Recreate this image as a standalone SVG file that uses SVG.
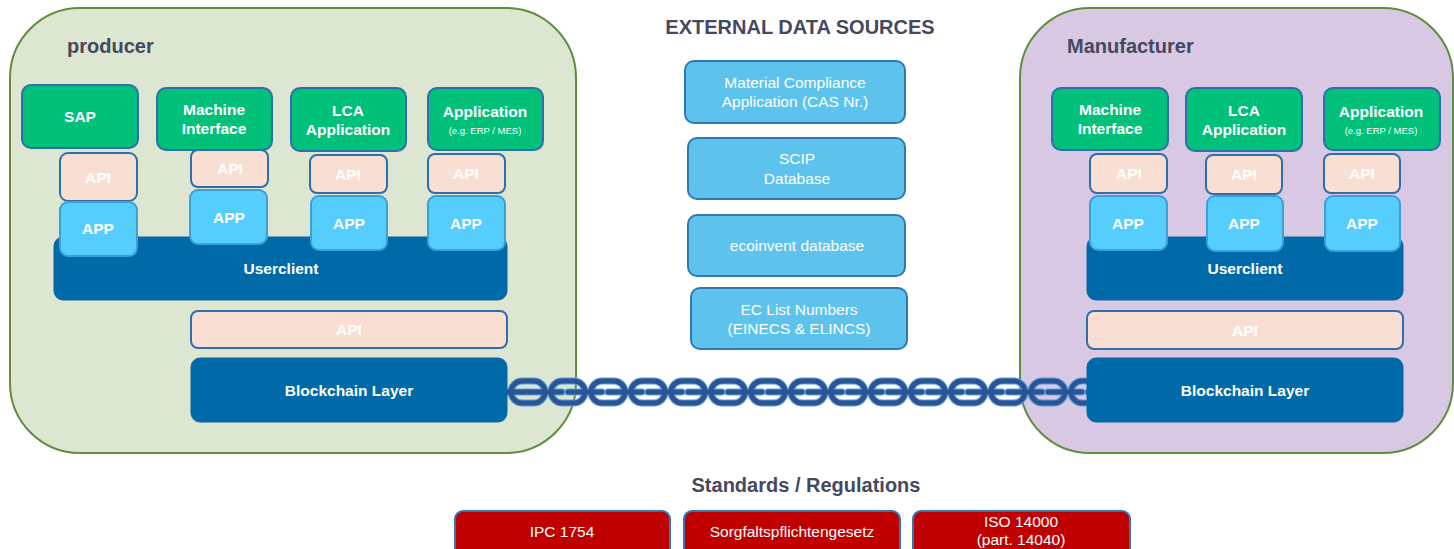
<svg xmlns="http://www.w3.org/2000/svg" width="1454" height="549" viewBox="0 0 1454 549">
<defs>
<style>
text{font-family:"Liberation Sans",Arial,sans-serif;text-anchor:middle}
.container{stroke:#5e8e3e;stroke-width:2}
.title{font-size:20px;font-weight:bold;fill:#44495f}
.ctitle{font-size:20px;font-weight:bold;fill:#44495f;text-anchor:start}
.green{fill:#00c07a;stroke:#2e6fab;stroke-width:2}
.api{fill:#f9dfd3;stroke:#2e6fab;stroke-width:2}
.app{fill:#56cefd;stroke:#3b9fd8;stroke-width:2}
.dark{fill:#006aa9;stroke:#0a66a2;stroke-width:1}
.ext{fill:#5ec3ec;stroke:#2f78b4;stroke-width:2}
.red{fill:#c00000;stroke:#2f78b4;stroke-width:2}
.wb{fill:#fff;font-weight:bold;font-size:15.5px}
.wsm{fill:#fff;font-size:9.5px}
.wr{fill:#fff;font-size:15.5px}
.chainglow{fill:none;stroke:#5d9fdc;stroke-width:7;stroke-linecap:round}
.chaincore{fill:none;stroke:#2b5494;stroke-width:4.8;stroke-linecap:round}
</style>
<path id="link" d="M12,-11 H24 A11,11 0 0 1 24,11 H12 A11,11 0 0 1 12,-11 Z M18,0 H52"/>
</defs>
<rect width="1454" height="549" fill="#fff"/>

<g id="producer-container">
<rect class="container" x="10" y="8" width="566" height="445" rx="70" fill="#dce6d1"/>
<text class="ctitle" x="67" y="53">producer</text>
</g>
<g id="manufacturer-container">
<rect class="container" x="1020" y="8" width="433" height="445" rx="70" fill="#d9c8e3"/>
<text class="ctitle" x="1067" y="53">Manufacturer</text>
</g>

<g id="connectors">
<g id="chain-glow" class="chainglow">
<path d="M498,392 H526"/>
<use href="#link" x="510" y="392"/>
<use href="#link" x="550" y="392"/>
<use href="#link" x="590" y="392"/>
<use href="#link" x="630" y="392"/>
<use href="#link" x="670" y="392"/>
<use href="#link" x="710" y="392"/>
<use href="#link" x="750" y="392"/>
<use href="#link" x="790" y="392"/>
<use href="#link" x="830" y="392"/>
<use href="#link" x="870" y="392"/>
<use href="#link" x="910" y="392"/>
<use href="#link" x="950" y="392"/>
<use href="#link" x="990" y="392"/>
<use href="#link" x="1030" y="392"/>
<use href="#link" x="1070" y="392"/>
</g>
<g id="chain-core" class="chaincore">
<path d="M498,392 H526"/>
<use href="#link" x="510" y="392"/>
<use href="#link" x="550" y="392"/>
<use href="#link" x="590" y="392"/>
<use href="#link" x="630" y="392"/>
<use href="#link" x="670" y="392"/>
<use href="#link" x="710" y="392"/>
<use href="#link" x="750" y="392"/>
<use href="#link" x="790" y="392"/>
<use href="#link" x="830" y="392"/>
<use href="#link" x="870" y="392"/>
<use href="#link" x="910" y="392"/>
<use href="#link" x="950" y="392"/>
<use href="#link" x="990" y="392"/>
<use href="#link" x="1030" y="392"/>
<use href="#link" x="1070" y="392"/>
</g>
</g>

<!-- producer side -->
<g id="p-userclient"><rect class="dark" x="54" y="237" width="453" height="63" rx="9"/><text class="wb" x="281" y="274">Userclient</text></g>
<g id="p-sap"><rect class="green" x="22" y="85" width="116" height="63" rx="9"/><text class="wb" x="80" y="122">SAP</text></g>
<g id="p-machine"><rect class="green" x="157" y="88" width="115" height="62" rx="9"/><text class="wb" x="214" y="115">Machine</text><text class="wb" x="214" y="134">Interface</text></g>
<g id="p-lca"><rect class="green" x="291" y="88" width="115" height="63" rx="9"/><text class="wb" x="348" y="116">LCA</text><text class="wb" x="348" y="135">Application</text></g>
<g id="p-application"><rect class="green" x="428" y="88" width="115" height="62" rx="9"/><text class="wb" x="485" y="117">Application</text><text class="wsm" x="485" y="134">(e.g. ERP / MES)</text></g>
<g id="p-api1"><rect class="api" x="60" y="153" width="77" height="48" rx="8"/><text class="wb" x="98" y="183">API</text></g>
<g id="p-app1"><rect class="app" x="60" y="202" width="77" height="54" rx="8"/><text class="wb" x="98" y="234">APP</text></g>
<g id="p-api2"><rect class="api" x="191" y="150" width="77" height="37" rx="7"/><text class="wb" x="230" y="174">API</text></g>
<g id="p-app2"><rect class="app" x="190" y="190" width="77" height="54" rx="8"/><text class="wb" x="229" y="223">APP</text></g>
<g id="p-api3"><rect class="api" x="310" y="155" width="77" height="38" rx="7"/><text class="wb" x="348" y="180">API</text></g>
<g id="p-app3"><rect class="app" x="311" y="196" width="76" height="54" rx="8"/><text class="wb" x="349" y="229">APP</text></g>
<g id="p-api4"><rect class="api" x="428" y="154" width="77" height="39" rx="7"/><text class="wb" x="466" y="179">API</text></g>
<g id="p-app4"><rect class="app" x="428" y="196" width="77" height="54" rx="8"/><text class="wb" x="466" y="229">APP</text></g>
<g id="p-api-wide"><rect class="api" x="191" y="311" width="316" height="37" rx="7"/><text class="wb" x="349" y="335">API</text></g>
<g id="p-blockchain"><rect class="dark" x="191" y="358" width="316" height="64" rx="9"/><text class="wb" x="349" y="396">Blockchain  Layer</text></g>

<!-- manufacturer side -->
<g id="m-userclient"><rect class="dark" x="1087" y="237" width="316" height="63" rx="9"/><text class="wb" x="1245" y="274">Userclient</text></g>
<g id="m-machine"><rect class="green" x="1052" y="88" width="116" height="62" rx="9"/><text class="wb" x="1110" y="115">Machine</text><text class="wb" x="1110" y="134">Interface</text></g>
<g id="m-lca"><rect class="green" x="1186" y="88" width="116" height="63" rx="9"/><text class="wb" x="1244" y="116">LCA</text><text class="wb" x="1244" y="135">Application</text></g>
<g id="m-application"><rect class="green" x="1324" y="88" width="116" height="62" rx="9"/><text class="wb" x="1381" y="117">Application</text><text class="wsm" x="1381" y="134">(e.g. ERP / MES)</text></g>
<g id="m-api1"><rect class="api" x="1090" y="154" width="77" height="39" rx="7"/><text class="wb" x="1129" y="179">API</text></g>
<g id="m-app1"><rect class="app" x="1090" y="196" width="77" height="54" rx="8"/><text class="wb" x="1128" y="229">APP</text></g>
<g id="m-api2"><rect class="api" x="1206" y="155" width="76" height="39" rx="7"/><text class="wb" x="1244" y="180">API</text></g>
<g id="m-app2"><rect class="app" x="1207" y="196" width="76" height="55" rx="8"/><text class="wb" x="1244" y="229">APP</text></g>
<g id="m-api3"><rect class="api" x="1324" y="154" width="76" height="39" rx="7"/><text class="wb" x="1362" y="179">API</text></g>
<g id="m-app3"><rect class="app" x="1325" y="196" width="75" height="55" rx="8"/><text class="wb" x="1362" y="229">APP</text></g>
<g id="m-api-wide"><rect class="api" x="1087" y="311" width="316" height="38" rx="7"/><text class="wb" x="1245" y="336">API</text></g>
<g id="m-blockchain"><rect class="dark" x="1087" y="358" width="316" height="64" rx="9"/><text class="wb" x="1245" y="396">Blockchain  Layer</text></g>

<!-- external data sources -->
<g id="ext-title"><text class="title" x="800" y="34">EXTERNAL DATA SOURCES</text></g>
<g id="ext-material"><rect class="ext" x="685" y="61" width="220" height="62" rx="9"/><text class="wr" x="795" y="88">Material  Compliance</text><text class="wr" x="795" y="107">Application  (CAS Nr.)</text></g>
<g id="ext-scip"><rect class="ext" x="688" y="138" width="217" height="61" rx="9"/><text class="wr" x="797" y="164">SCIP</text><text class="wr" x="797" y="184">Database</text></g>
<g id="ext-ecoinvent"><rect class="ext" x="688" y="215" width="217" height="61" rx="9"/><text class="wr" x="797" y="251">ecoinvent  database</text></g>
<g id="ext-ec"><rect class="ext" x="691" y="288" width="216" height="61" rx="9"/><text class="wr" x="799" y="315">EC List Numbers</text><text class="wr" x="799" y="334">(EINECS &amp; ELINCS)</text></g>

<!-- standards -->
<g id="std-title"><text class="title" x="806" y="492">Standards / Regulations</text></g>
<g id="std-ipc"><rect class="red" x="455" y="511" width="215" height="48" rx="8"/><text class="wr" x="562" y="537">IPC 1754</text></g>
<g id="std-sorg"><rect class="red" x="684" y="511" width="216" height="48" rx="8"/><text class="wr" x="792" y="537">Sorgfaltspflichtengesetz</text></g>
<g id="std-iso"><rect class="red" x="913" y="511" width="217" height="48" rx="8"/><text class="wr" x="1021" y="527">ISO 14000</text><text class="wr" x="1021" y="545">(part. 14040)</text></g>
</svg>
